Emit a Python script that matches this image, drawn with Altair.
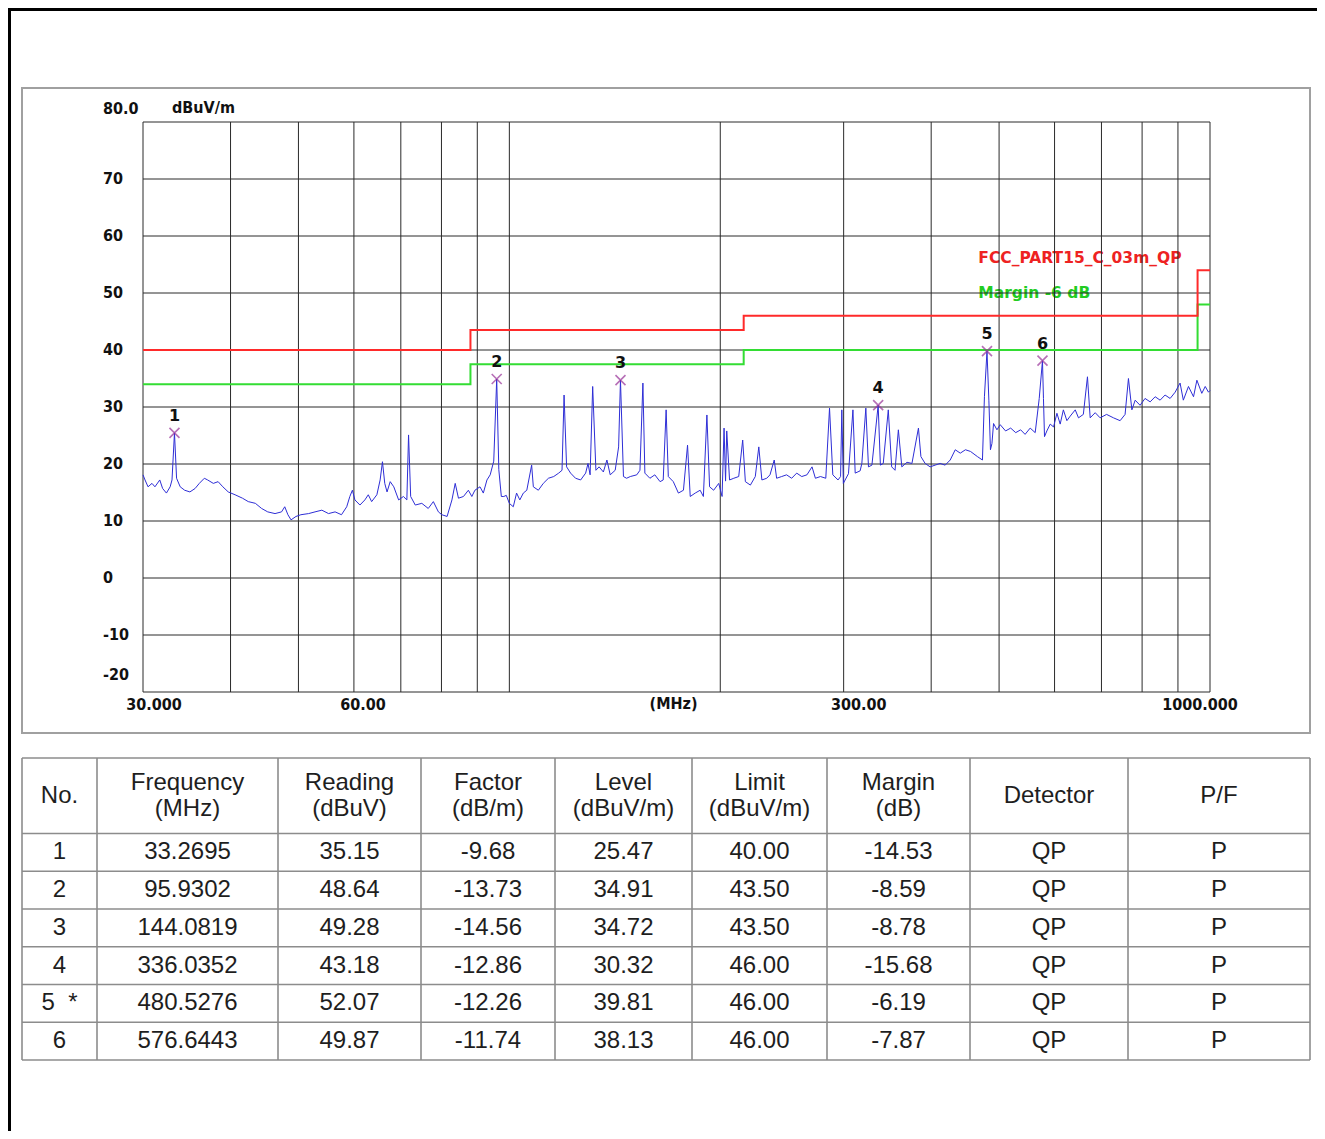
import altair as alt
import pandas as pd

# ---------------- spectrum trace ----------------
TRACE_FREQ = [
    30.0, 30.2, 30.5, 30.9, 31.2, 31.7, 32.0, 32.4, 32.8, 33.0,
    33.27, 33.5, 33.9, 34.4, 35.0, 35.6, 36.1, 36.7, 37.1, 37.8,
    38.4, 39.0, 39.7, 40.6, 41.6, 42.4, 43.4, 44.3, 45.2, 46.3,
    47.3, 47.8, 48.3, 48.8, 49.6, 50.4, 51.7, 52.8, 54.0, 55.2,
    56.4, 57.6, 58.6, 59.2, 59.7, 60.2, 61.2, 62.2, 62.9, 63.6,
    64.7, 65.4, 65.9, 66.4, 66.9, 67.6, 68.4, 69.5, 70.6, 71.4,
    71.8, 72.3, 73.4, 75.0, 76.6, 77.9, 79.2, 80.1, 81.5, 82.8,
    83.7, 84.6, 86.0, 87.4, 88.4, 89.3, 90.8, 91.8, 92.9, 93.9,
    95.0, 95.93, 96.6, 97.4, 98.2, 99.0, 100.0, 101.3, 102.4, 103.5,
    104.7, 105.9, 107.6, 108.2, 110.0, 111.8, 113.7, 115.7, 117.6, 118.9,
    119.7, 120.7, 122.3, 124.3, 126.4, 128.5, 129.5, 130.4, 131.5, 132.9,
    134.3, 136.2, 137.8, 139.3, 141.6, 143.2, 144.08, 145.5, 147.0, 148.8,
    152.0, 153.6, 155.1, 156.1, 158.7, 161.3, 164.1, 165.8, 167.4, 168.6,
    171.4, 174.3, 177.2, 179.6, 181.2, 184.2, 187.2, 189.2, 191.4, 193.1,
    195.7, 199.0, 201.2, 202.5, 203.5, 204.3, 206.2, 209.1, 212.5, 215.3,
    217.2, 220.8, 224.4, 227.0, 229.3, 233.0, 235.5, 238.8, 240.7, 244.7,
    248.7, 252.9, 257.1, 261.4, 265.9, 270.4, 273.4, 278.0, 282.9, 286.4,
    289.5, 294.5, 297.0, 298.2, 299.7, 304.8, 309.3, 311.6, 316.7, 318.5,
    322.7, 325.5, 329.2, 336.04, 338.5, 341.7, 347.4, 351.3, 355.2, 359.1,
    363.2, 369.4, 375.5, 383.6, 386.7, 392.1, 398.6, 405.2, 411.9, 418.8,
    425.8, 432.9, 440.1, 447.7, 455.2, 465.6, 473.4, 476.5, 480.53, 483.5,
    486.0, 488.4, 491.0, 496.5, 501.8, 510.8, 519.4, 528.1, 536.7, 544.6,
    553.8, 563.0, 570.5, 576.64, 578.5, 580.5, 585.0, 591.5, 598.0, 604.7,
    611.2, 617.6, 624.8, 631.7, 642.2, 649.1, 659.5, 668.5, 674.5, 685.7,
    696.9, 711.9, 728.2, 744.2, 756.5, 764.9, 773.6, 782.0, 794.7, 807.8,
    821.5, 835.1, 848.8, 862.7, 877.2, 891.8, 906.3, 916.1, 931.7, 947.3,
    957.8, 973.4, 984.5, 995.0, 1000.0,
]
TRACE_LEVEL = [
    18.1, 17.2, 16.0, 16.6, 16.0, 17.2, 15.7, 14.9, 16.0, 17.2,
    25.47, 17.5, 16.0, 15.4, 15.1, 15.7, 16.6, 17.5, 17.2, 16.6,
    16.9, 16.0, 15.1, 14.6, 14.0, 13.4, 13.1, 12.2, 11.6, 11.3,
    11.6, 12.5, 11.1, 10.2, 10.8, 11.1, 11.3, 11.6, 11.9, 11.3,
    11.6, 11.1, 12.5, 14.3, 15.4, 13.7, 12.8, 13.7, 14.6, 13.4,
    14.6, 17.2, 20.4, 16.6, 15.1, 16.9, 16.0, 13.7, 14.3, 13.7,
    25.1, 14.3, 12.8, 13.1, 12.2, 13.4, 11.6, 11.1, 10.8, 13.7,
    16.6, 14.0, 14.3, 15.4, 14.3, 15.4, 16.0, 14.9, 17.2, 18.1,
    20.5, 34.91, 19.0, 14.3, 14.3, 14.5, 13.1, 12.5, 14.9, 13.7,
    14.9, 15.4, 19.8, 16.0, 15.4, 16.6, 17.5, 17.8, 18.4, 18.9,
    32.1, 19.5, 18.4, 17.5, 17.2, 18.4, 20.1, 18.1, 33.6, 18.9,
    19.5, 18.6, 20.7, 18.1, 18.9, 23.0, 34.72, 17.8, 17.5, 17.8,
    18.1, 18.9, 34.2, 18.4, 17.5, 18.1, 16.9, 17.2, 29.5, 17.8,
    16.9, 14.9, 15.4, 23.3, 14.3, 14.9, 15.4, 14.3, 28.6, 16.0,
    15.4, 16.6, 14.3, 26.3, 17.0, 25.8, 17.2, 17.5, 17.8, 24.2,
    16.9, 16.3, 17.8, 23.0, 17.2, 17.5, 18.1, 20.7, 17.5, 17.8,
    18.1, 17.5, 18.4, 17.8, 18.1, 19.5, 17.5, 17.8, 17.5, 29.8,
    18.1, 17.2, 17.8, 29.5, 16.6, 18.3, 29.5, 18.4, 18.8, 20.1,
    29.8, 19.5, 19.8, 30.32, 19.8, 20.1, 29.5, 19.5, 18.9, 26.0,
    19.5, 20.3, 20.1, 26.3, 21.3, 20.1, 19.5, 19.8, 20.1, 19.8,
    20.7, 22.5, 21.9, 22.5, 22.2, 21.3, 20.7, 31.8, 39.81, 31.2,
    22.5, 23.6, 27.1, 26.0, 26.9, 25.8, 26.3, 25.5, 26.0, 25.2,
    26.3, 25.5, 31.5, 38.13, 31.5, 24.8, 25.8, 27.0, 26.5, 28.9,
    27.0, 29.5, 27.6, 28.4, 29.5, 28.1, 28.7, 35.3, 28.1, 29.0,
    28.1, 28.7, 28.1, 27.6, 28.7, 35.0, 29.5, 31.2, 30.3, 31.5,
    30.9, 31.8, 31.2, 32.1, 31.5, 32.6, 34.2, 31.2, 33.6, 31.8,
    34.7, 32.4, 33.6, 32.6, 32.9,
]

# limit lines (step after)
LIMIT_FREQ = [30, 88, 216, 960, 1000]
LIMIT_LEVEL = [40.0, 43.5, 46.0, 54.0, 54.0]
MARGIN_LEVEL = [34.0, 37.5, 40.0, 48.0, 48.0]
LIMIT_NAME = "FCC_PART15_C_03m_QP"
MARGIN_NAME = "Margin -6 dB"

# marked peaks
MARK_NO = ["1", "2", "3", "4", "5", "6"]
MARK_FREQ = [33.2695, 95.9302, 144.0819, 336.0352, 480.5276, 576.6443]
MARK_LEVEL = [25.47, 34.91, 34.72, 30.32, 39.81, 38.13]

# grid / ticks
X_GRID = [30, 40, 50, 60, 70, 80, 90, 100, 200, 300, 400, 500, 600, 700, 800, 900, 1000]
Y_GRID = [-20, -10, 0, 10, 20, 30, 40, 50, 60, 70, 80]
Y_TICK_LABELS = ["-20", "-10", "0", "10", "20", "30", "40", "50", "60", "70", "80.0"]
X_TICKS = [30, 60, 300, 1000]
X_TICK_LABELS = ["30.000", "60.00", "300.00", "1000.000"]
X_UNIT = "(MHz)"
Y_UNIT = "dBuV/m"

# ---------------- table ----------------
TABLE_HEADERS = ["No.", "Frequency\n(MHz)", "Reading\n(dBuV)", "Factor\n(dB/m)",
                 "Level\n(dBuV/m)", "Limit\n(dBuV/m)", "Margin\n(dB)", "Detector", "P/F"]
COL_NO = ["1", "2", "3", "4", "5\u00a0\u00a0*", "6"]
COL_FREQ = ["33.2695", "95.9302", "144.0819", "336.0352", "480.5276", "576.6443"]
COL_READING = ["35.15", "48.64", "49.28", "43.18", "52.07", "49.87"]
COL_FACTOR = ["-9.68", "-13.73", "-14.56", "-12.86", "-12.26", "-11.74"]
COL_LEVEL = ["25.47", "34.91", "34.72", "30.32", "39.81", "38.13"]
COL_LIMIT = ["40.00", "43.50", "43.50", "46.00", "46.00", "46.00"]
COL_MARGIN = ["-14.53", "-8.59", "-8.78", "-15.68", "-6.19", "-7.87"]
COL_DETECTOR = ["QP", "QP", "QP", "QP", "QP", "QP"]
COL_PF = ["P", "P", "P", "P", "P", "P"]

# layout (not data)
W, H = 1309, 1123
COL_WIDTHS = [75, 181, 143, 134, 137, 135, 143, 158, 182]
AX_FONT = "DejaVu Sans Condensed"
TBL_FONT = "Liberation Sans"
X_LABEL_DX = [11, 9, 15, -10]   # horizontal nudge of each x tick label
AX_COLOR = "#111111"

X_DOMAIN = [30, 1000]
Y_DOMAIN = [-20, 80]
xs = alt.Scale(type="log", domain=X_DOMAIN, range=[135, 1202], nice=False)
ys = alt.Scale(type="linear", domain=Y_DOMAIN, range=[684, 114], nice=False, zero=False)

trace_df = pd.DataFrame({"f": TRACE_FREQ, "v": TRACE_LEVEL})
limit_df = pd.DataFrame({"f": LIMIT_FREQ, "limit": LIMIT_LEVEL, "margin": MARGIN_LEVEL})
mark_df = pd.DataFrame({"no": MARK_NO, "f": MARK_FREQ, "v": MARK_LEVEL})
xgrid_df = pd.DataFrame({"f": X_GRID})
ygrid_df = pd.DataFrame({"v": Y_GRID})
one_df = pd.DataFrame({"k": [0]})
xlab_df = pd.DataFrame({"t": X_TICKS, "txt": X_TICK_LABELS})
ylab_df = pd.DataFrame({"v": Y_GRID, "txt": Y_TICK_LABELS})


def X(field=None, datum=None):
    if field is not None:
        return alt.X(field, scale=xs, axis=None)
    return alt.X(datum=datum, scale=xs, axis=None)


def Y(field=None, datum=None):
    if field is not None:
        return alt.Y(field, scale=ys, axis=None)
    return alt.Y(datum=datum, scale=ys, axis=None)


ax_text = dict(font=AX_FONT, fontSize=16, fontWeight="bold", color=AX_COLOR, baseline="middle")

# tick labels and unit titles (real text placed through the scales)
x_label_layers = [
    alt.Chart(xlab_df).transform_filter(f"datum.t == {t}").mark_text(
        align="center", dx=dx, dy=13, **ax_text
    ).encode(x=X("t:Q"), y=Y(datum=Y_DOMAIN[0]), text="txt:N")
    for t, dx in zip(X_TICKS, X_LABEL_DX)
]
y_labels_mid = alt.Chart(ylab_df).transform_filter(
    f"datum.v > {Y_DOMAIN[0]} && datum.v < {Y_DOMAIN[1]}"
).mark_text(align="left", dx=-40, **ax_text).encode(
    x=X(datum=X_DOMAIN[0]), y=Y("v:Q"), text="txt:N")
y_label_top = alt.Chart(ylab_df).transform_filter(f"datum.v == {Y_DOMAIN[1]}").mark_text(
    align="left", dx=-40, dy=-13, **ax_text).encode(
    x=X(datum=X_DOMAIN[0]), y=Y("v:Q"), text="txt:N")
y_label_bot = alt.Chart(ylab_df).transform_filter(f"datum.v == {Y_DOMAIN[0]}").mark_text(
    align="left", dx=-40, dy=-17, **ax_text).encode(
    x=X(datum=X_DOMAIN[0]), y=Y("v:Q"), text="txt:N")
y_title = alt.Chart(one_df).mark_text(align="left", dx=29, dy=-14, text=Y_UNIT, **ax_text).encode(
    x=X(datum=X_DOMAIN[0]), y=Y(datum=Y_DOMAIN[1]))
x_title = alt.Chart(one_df).mark_text(align="center", dx=-3, dy=12, text=X_UNIT, **ax_text).encode(
    x=X(datum=(X_DOMAIN[0] * X_DOMAIN[1]) ** 0.5), y=Y(datum=Y_DOMAIN[0]))

legend_limit = alt.Chart(one_df).mark_text(
    align="left", baseline="middle", font="DejaVu Sans", fontSize=15.5,
    fontWeight="bold", color="#ee2222", text=LIMIT_NAME,
).encode(x=X(datum=467), y=Y(datum=56.1))
legend_margin = alt.Chart(one_df).mark_text(
    align="left", baseline="middle", font="DejaVu Sans", fontSize=15.5,
    fontWeight="bold", color="#22cc22", text=MARGIN_NAME,
).encode(x=X(datum=467), y=Y(datum=50.0))

vgrid = alt.Chart(xgrid_df).mark_rule(color="#2a2a2a", strokeWidth=1).encode(
    x=X("f:Q"), y=Y(datum=Y_DOMAIN[0]), y2=alt.Y2(datum=Y_DOMAIN[1]))
hgrid = alt.Chart(ygrid_df).mark_rule(color="#2a2a2a", strokeWidth=1).encode(
    y=Y("v:Q"), x=X(datum=X_DOMAIN[0]), x2=alt.X2(datum=X_DOMAIN[1]))
margin_line = alt.Chart(limit_df).mark_line(
    interpolate="step-after", color="#33dd33", strokeWidth=2
).encode(x=X("f:Q"), y=Y("margin:Q"))
limit_line = alt.Chart(limit_df).mark_line(
    interpolate="step-after", color="#ff2a2a", strokeWidth=2
).encode(x=X("f:Q"), y=Y("limit:Q"))
trace = alt.Chart(trace_df).mark_line(color="#2e2ed6", strokeWidth=1).encode(
    x=X("f:Q"), y=Y("v:Q"))
markers = alt.Chart(mark_df).mark_point(
    shape="M-1,-1L1,1M-1,1L1,-1", size=100, filled=False, color="#993399", strokeWidth=1.6
).encode(x=X("f:Q"), y=Y("v:Q"))
marker_labels = alt.Chart(mark_df).mark_text(
    dy=-17, font="DejaVu Sans", fontSize=16, fontWeight="bold", color=AX_COLOR
).encode(x=X("f:Q"), y=Y("v:Q"), text="no:N")

spectrum = alt.layer(legend_limit, legend_margin, vgrid, hgrid, margin_line,
                     limit_line, trace, markers, marker_labels,
                     *x_label_layers, y_labels_mid, y_label_top, y_label_bot,
                     y_title, x_title)

# ---------------- table chart ----------------
edges = [0]
for w in COL_WIDTHS:
    edges.append(edges[-1] + w)
total_w = edges[-1]
centers = [(edges[i] + edges[i + 1]) / 2 for i in range(len(COL_WIDTHS))]
n_rows = len(COL_NO)

tx = alt.Scale(domain=[0, total_w], range=[14, 1302], nice=False, zero=False)
ty = alt.Scale(domain=[0, n_rows + 2], range=[750, 1052], nice=False, zero=False)

columns = [COL_NO, COL_FREQ, COL_READING, COL_FACTOR, COL_LEVEL,
           COL_LIMIT, COL_MARGIN, COL_DETECTOR, COL_PF]
head1, head2, cells = [], [], []
for ci, head in enumerate(TABLE_HEADERS):
    (head2 if "\n" in head else head1).append({"cx": centers[ci], "cy": 1.0, "txt": head})
for ci, col in enumerate(columns):
    for ri, val in enumerate(col):
        cells.append({"cx": centers[ci], "cy": 2 + ri + 0.5, "txt": val})
hline_df = pd.DataFrame({"r": [0] + list(range(2, n_rows + 3))})
vline_df = pd.DataFrame({"c": edges})

table_h = alt.Chart(hline_df).mark_rule(color="#8c8c8c", strokeWidth=1.6).encode(
    y=alt.Y("r:Q", scale=ty, axis=None),
    x=alt.X(datum=0, scale=tx, axis=None), x2=alt.X2(datum=total_w),
)
table_v = alt.Chart(vline_df).mark_rule(color="#8c8c8c", strokeWidth=1.6).encode(
    x=alt.X("c:Q", scale=tx, axis=None),
    y=alt.Y(datum=0, scale=ty, axis=None), y2=alt.Y2(datum=n_rows + 2),
)


def text_layer(rows, dy=0):
    return alt.Chart(pd.DataFrame(rows)).mark_text(
        font=TBL_FONT, fontSize=24, color="#1e1e1e", lineBreak="\n", lineHeight=26,
        baseline="middle", align="center", dy=dy,
    ).encode(
        x=alt.X("cx:Q", scale=tx, axis=None), y=alt.Y("cy:Q", scale=ty, axis=None),
        text="txt:N",
    )


table = alt.layer(table_h, table_v, text_layer(head1), text_layer(head2, dy=-13),
                  text_layer(cells))

# ---------------- frames ----------------
frame = alt.Chart(one_df).mark_rect(
    fillOpacity=0, stroke="#a0a0a0", strokeWidth=2
).encode(x=alt.value(14), x2=alt.value(1302), y=alt.value(80), y2=alt.value(725))
border_top = alt.Chart(one_df).mark_rule(color="#000000", strokeWidth=3).encode(
    x=alt.value(0), x2=alt.value(W), y=alt.value(1.5)
)
border_left = alt.Chart(one_df).mark_rule(color="#000000", strokeWidth=3).encode(
    x=alt.value(1.5), y=alt.value(0), y2=alt.value(H)
)

chart = alt.layer(frame, border_top, border_left, spectrum, table).resolve_scale(
    x="independent", y="independent"
).properties(
    width=W, height=H, padding=0, background="white",
    autosize=alt.AutoSizeParams(type="none"),
).configure_view(stroke=None)

chart.save("out.html", embed_options={"renderer": "svg", "actions": False})
